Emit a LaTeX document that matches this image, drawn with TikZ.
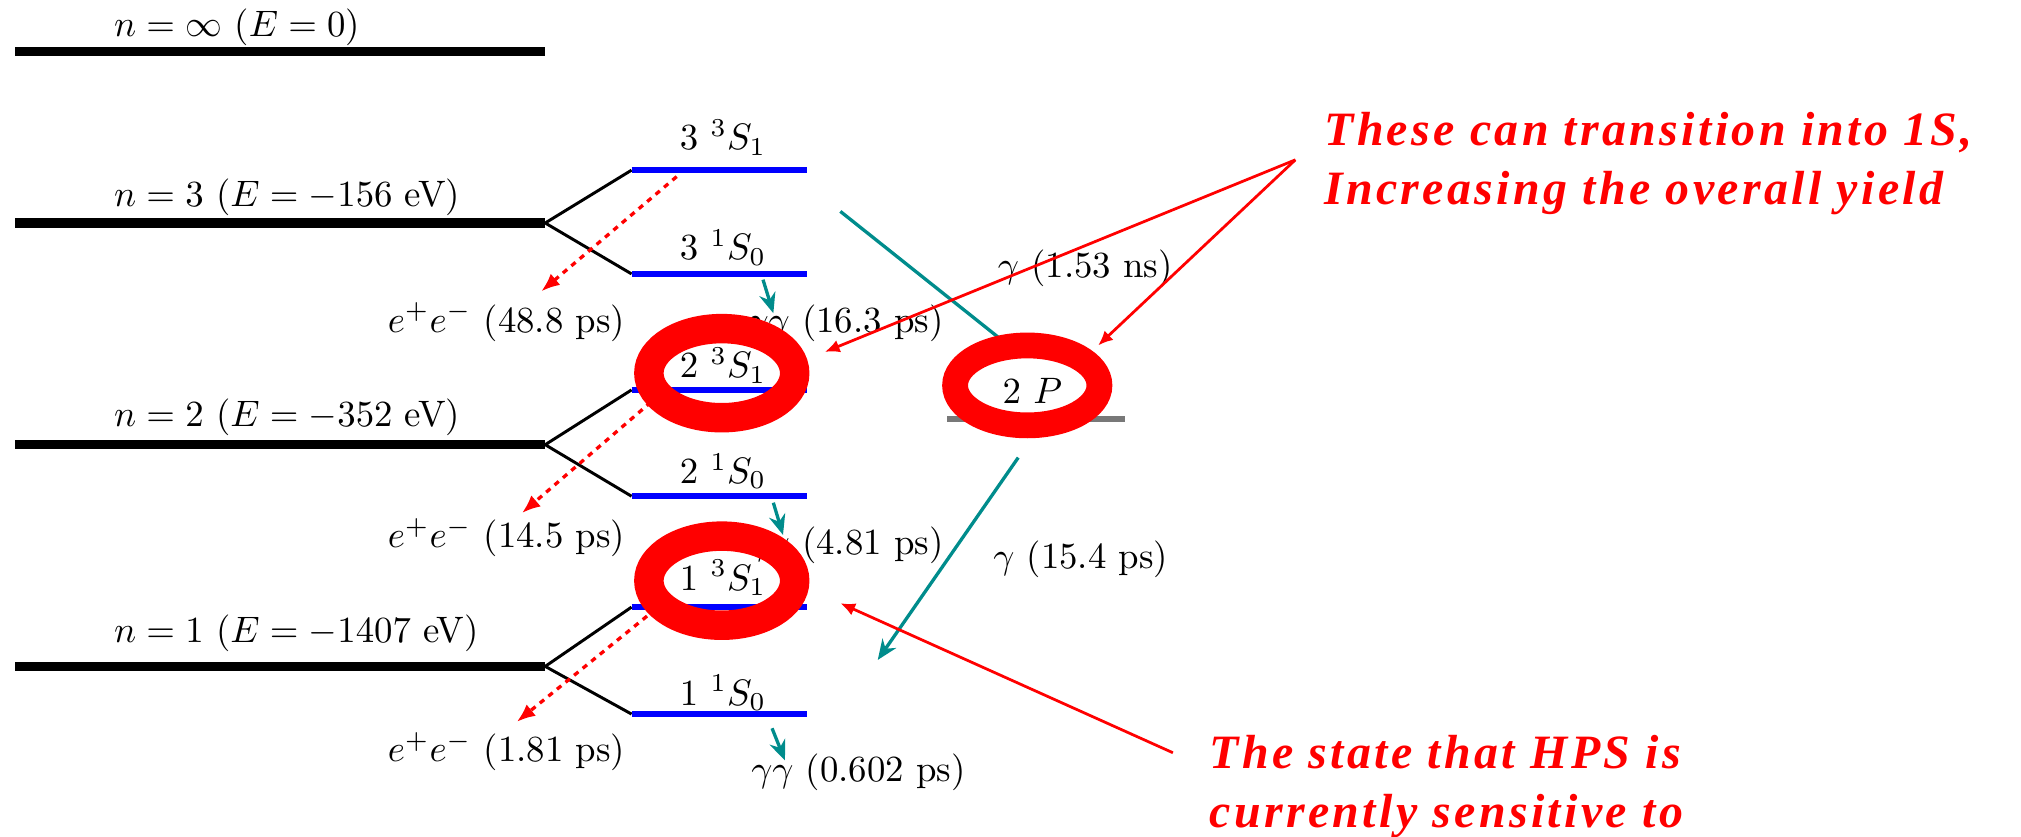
\documentclass[tikz,border=0pt]{standalone}
\usepackage{fontspec}
\usetikzlibrary{arrows.meta}
\newfontfamily\notefont{Liberation Serif}[LetterSpace=7]
\definecolor{tealline}{RGB}{0,140,140}
\definecolor{lvlgray}{RGB}{120,120,120}

\begin{document}
\begin{tikzpicture}[x=0.35pt,y=-0.35pt,
  level/.style={line width=2.5pt,draw=black},
  sublevel/.style={line width=1.5pt,draw=blue},
  fork/.style={line width=.8pt,draw=black},
  state/.style={anchor=base,inner sep=0pt},
  nlabel/.style={anchor=west,inner sep=0pt},
  tag/.style={inner sep=0pt},
  decay/.style={-{Latex[length=5pt,width=4pt]},draw=red,line width=.9pt,
    dash pattern=on 1.5pt off 1.5pt},
  photonline/.style={-{Stealth[length=5.5pt,width=4.5pt]},line width=.9pt,draw=tealline},
  ring/.style={draw=red,line width=8pt},
  pointer/.style={-{Latex[length=4pt,width=3.5pt]},draw=red,line width=.75pt},
  note/.style={text=red,font=\notefont\bfseries\itshape\fontsize{13}{16.1}\selectfont,
    align=left,anchor=west,inner sep=0pt}]
\useasboundingbox (0,0) rectangle (1568,649);

% fork points and sub-levels
\coordinate (n3) at (423,173);
\coordinate (n2) at (423,345);
\coordinate (n1) at (423,517);
\coordinate (s33S1) at (490,132);
\coordinate (s31S0) at (490,212.5);
\coordinate (s23S1) at (490,302.5);
\coordinate (s21S0) at (490,385);
\coordinate (s13S1) at (490,471);
\coordinate (s11S0) at (490,554);
\coordinate (s2P) at (735,325);

% principal levels
\draw[level] (12,40) -- (423,40);
\draw[level] (12,173) -- (n3);
\draw[level] (12,345) -- (n2);
\draw[level] (12,517) -- (n1);
\node[nlabel] (lninf) at (88,21) {$n=\infty$ ($E=0$)};
\node[nlabel] (ln3) at (88,153) {$n=3$ ($E=-156$ eV)};
\node[nlabel] (ln2) at (88,323.5) {$n=2$ ($E=-352$ eV)};
\node[nlabel] (ln1) at (88,491) {$n=1$ ($E=-1407$ eV)};

% splitting
\draw[fork] (s33S1) -- (n3) -- (s31S0);
\draw[fork] (s23S1) -- (n2) -- (s21S0);
\draw[fork] (s13S1) -- (n1) -- (s11S0);
\draw[sublevel] (s33S1) -- ++(136,0);
\draw[sublevel] (s31S0) -- ++(136,0);
\draw[sublevel] (s23S1) -- ++(136,0);
\draw[sublevel] (s21S0) -- ++(136,0);
\draw[sublevel] (s13S1) -- ++(136,0);
\draw[sublevel] (s11S0) -- ++(136,0);
\draw[line width=1.5pt,draw=lvlgray] (s2P) -- ++(138,0);
\node[state] (l33S1) at (561,116) {$3~{}^3S_1$};
\node[state] (l31S0) at (561,201.7) {$3~{}^1S_0$};
\node[state] (l23S1) at (561,293) {$2~{}^3S_1$};
\node[state] (l21S0) at (561,375) {$2~{}^1S_0$};
\node[state] (l13S1) at (561,458) {$1~{}^3S_1$};
\node[state] (l11S0) at (561,547) {$1~{}^1S_0$};
\node[state] (l2P) at (801,313) {$2~P$};

% annihilation
\coordinate (d3s) at (525,137);  \coordinate (d3e) at (420,226);
\coordinate (d2s) at (505,312);  \coordinate (d2e) at (405,398);
\coordinate (d1s) at (502,478);  \coordinate (d1e) at (401,560);
\draw[decay] (d3s) -- (d3e);
\draw[decay] (d2s) -- (d2e);
\draw[decay] (d1s) -- (d1e);
\node[tag] (ee3) at (393,250) {$e^+e^-$ (48.8 ps)};
\node[tag] (ee2) at (393,417) {$e^+e^-$ (14.5 ps)};
\node[tag] (ee1) at (393,583) {$e^+e^-$ (1.81 ps)};

\coordinate (g3s) at (592,217);  \coordinate (g3e) at (600,243);
\coordinate (g2s) at (600,390);  \coordinate (g2e) at (607.5,415);
\coordinate (g1s) at (599,565);  \coordinate (g1e) at (609,590);
\draw[photonline] (g3s) -- (g3e);
\draw[photonline] (g2s) -- (g2e);
\draw[photonline] (g1s) -- (g1e);
\node[tag] (gg3) at (656,251) {$\gamma\gamma$ (16.3 ps)};
\node[tag] (gg2) at (656,423) {$\gamma\gamma$ (4.81 ps)};
\node[tag] (gg1) at (666,599) {$\gamma\gamma$ (0.602 ps)};

% radiative transitions via 2P
\coordinate (t3s) at (652,164);  \coordinate (t3e) at (785,270);
\coordinate (t2s) at (790,355);  \coordinate (t2e) at (681,512);
\draw[line width=.9pt,draw=tealline] (t3s) -- (t3e);
\draw[photonline] (t2s) -- (t2e);
\node[tag] (g3to2) at (842,208) {$\gamma$ (1.53 ns)};
\node[tag] (g2to1) at (838.5,434) {$\gamma$ (15.4 ps)};

% highlights
\draw[ring] (560,289.5) ellipse [x radius=19.8pt,y radius=12.1pt];
\draw[ring] (560,450.5) ellipse [x radius=19.8pt,y radius=12.1pt];
\draw[ring,line width=7pt] (797,299) ellipse [x radius=19.6pt,y radius=10.85pt];

% annotations
\coordinate (pTop) at (1005,124);
\coordinate (pBot) at (910,584);
\draw[pointer] (pTop) -- (640,273);
\draw[pointer] (pTop) -- (852,268);
\draw[pointer] (pBot) -- (652,468);
\node[note] (noteTop) at (1027,127) {These can transition into 1S,\\Increasing the overall yield};
\node[note] (noteBottom) at (938,610) {The state that HPS is\\currently sensitive to};
\end{tikzpicture}
\end{document}
